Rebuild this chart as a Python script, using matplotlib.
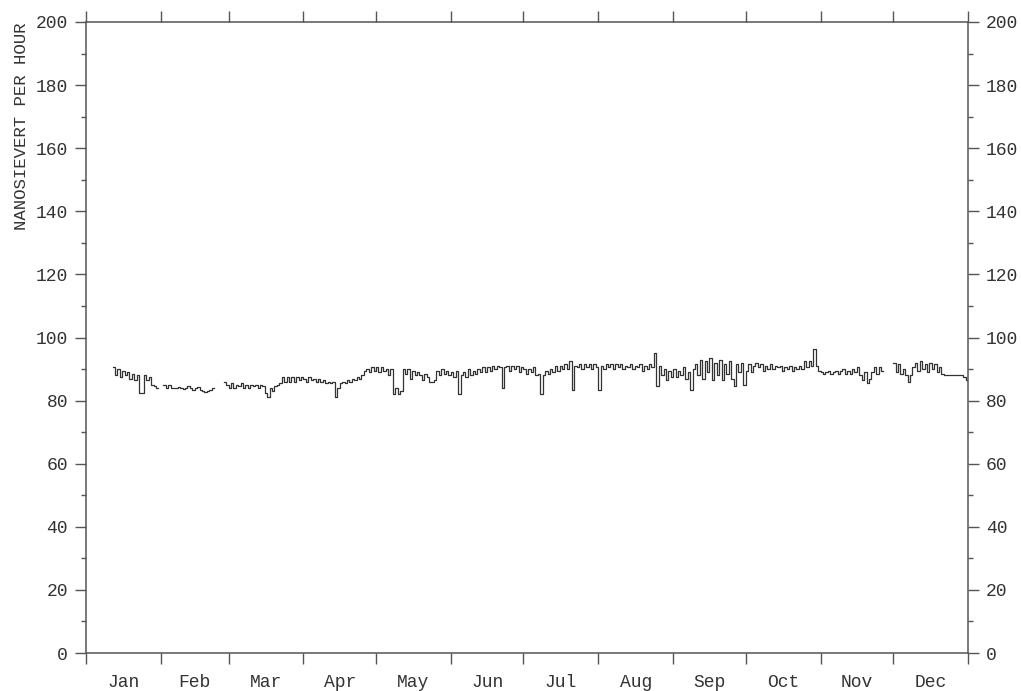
import numpy as np
import matplotlib
matplotlib.use('Agg')
import matplotlib.pyplot as plt

nan = np.nan

# daily dose rate readings, nanosievert per hour (NaN = no data)
jan = [nan] * 11 + [90.5, 88, 90, 87.5, 89.5, 88, 89, 87, 88.5, 86.5, 88,
                    82.5, 82.5, 88, 86.5, 87.5, 85, 84.5, 84, nan]
feb = [nan, 85, 84, 85, 84, 84, 84, 84.3, 84, 83.8, 84, 84.5, 84, 83.5, 84, 84.2,
       83.5, 83, 82.7, 83, 83.5, 84, nan, nan, nan, nan, 86, 85]
mar = [84, 85.5, 84, 85, 84.5, 85.5, 84, 85, 84, 85, 84.5, 85, 84, 85, 84.5,
       82.5, 81, 84, 83, 84.5, 85, 85.5, 87.5, 86, 87.5, 86, 87.5, 86, 87.5, 86.5, 87.5]
apr = [87, 86, 87.5, 86.5, 87, 86, 87, 86, 86.5, 85.5, 86, 85.5, 86, 81, 84,
       85.5, 86, 85.5, 86.5, 86, 87, 86.5, 87.5, 87, 88, 89.5, 90, 89, 90.5, 89.5]
may = [90.5, 89, 90.5, 89.5, 90, 88, 90, 82, 84, 82, 83, 90, 88.5, 90, 87, 89.5,
       88, 89, 88, 86.5, 88.5, 87.5, 86, 86, 86.5, 89.5, 88, 90, 88.5, 89.5, 88]
jun = [89, 87.5, 89.5, 82, 88, 89, 87.5, 90, 88, 89.5, 88.5, 90, 89, 90.5, 89,
       90.5, 89.5, 91, 90, 91, 90.5, 84, 90.5, 91, 89.5, 91, 90, 91, 89, 90.5]
jul = [90, 88.5, 90, 89, 90.5, 88, 88.5, 82, 88, 89.5, 88.5, 90, 89, 91, 89.5,
       91, 90, 91.5, 90, 92.5, 83.5, 91, 90.5, 91.5, 90, 91.5, 90.5, 91.5, 90, 91.5,
       90.5]
aug = [83.5, 91, 90, 91.5, 90.5, 91.5, 90, 91.5, 90.5, 91.5, 90, 91, 90.5, 91.5,
       90, 91, 90.5, 91.5, 89.5, 91, 90, 91.5, 90.5, 95, 84.5, 91, 88, 90, 86.5,
       89.5, 87.5]
sep = [90, 87.5, 89.5, 88, 90.5, 87, 89, 83.5, 90, 91.5, 88, 93, 87, 92.5, 89,
       93.5, 86.5, 92, 88, 93, 86.5, 91.5, 88.5, 92.5, 87, 84.5, 91.5, 89, 92, 85]
oct_ = [89.5, 91.5, 89, 91, 92, 90.5, 91.5, 89.5, 91, 90, 91.5, 90, 91, 90.5, 91,
        89.5, 90.5, 90, 91, 89.5, 90.5, 90, 91, 90, 92.5, 90.5, 92.5, 91, 96.5,
        91, 89.5]
nov = [89, 88.5, 89, 89.5, 88.5, 89, 89.5, 88.5, 89.5, 90, 88.5, 89.5, 88.5, 90,
       89, 90.5, 88, 86.5, 89, 85.5, 87, 89, 90.5, 88.5, 90.5, 89.5, nan, nan, nan, nan]
dec = [92, 89, 91.5, 88.5, 90, 88, 86, 88, 90.5, 92, 89.5, 92.5, 90, 91.5, 89,
       92, 90, 91.5, 89, 90.5, 88.5, 88, 88, 88, 88, 88.2, 88, 88, 88, 87.5, 86.5]

months = ['Jan', 'Feb', 'Mar', 'Apr', 'May', 'Jun',
          'Jul', 'Aug', 'Sep', 'Oct', 'Nov', 'Dec']
month_days = [31, 28, 31, 30, 31, 30, 31, 31, 30, 31, 30, 31]

values = np.array(jan + feb + mar + apr + may + jun + jul + aug + sep + oct_ + nov + dec)
days = np.arange(len(values) + 1)
values = np.append(values, values[-1])

plt.rcParams['font.family'] = ['Liberation Mono', 'DejaVu Sans Mono']
plt.rcParams['font.size'] = 13

fig = plt.figure(figsize=(10.21, 6.91), dpi=100)
ax = fig.add_axes([86 / 1021, 38 / 691, 882 / 1021, 631 / 691])

ax.step(days, values, where='post', color='#333333', linewidth=0.9)

ax.set_xlim(0, 365)
ax.set_ylim(0, 200)

# month boundaries get tick marks, month names sit in between
edges = np.concatenate([[0], np.cumsum(month_days)])
mids = (edges[:-1] + edges[1:]) / 2
ax.set_xticks(edges)
ax.set_xticklabels([])
ax.set_xticks(mids, minor=True)
ax.set_xticklabels(months, minor=True)
ax.tick_params(axis='x', which='major', direction='out', length=8, width=1,
               color='#555555', top=True, bottom=True)
ax.tick_params(axis='x', which='minor', length=0, pad=15, colors='#333333')

ax.set_yticks(np.arange(0, 201, 20))
ax.set_yticks(np.arange(10, 200, 20), minor=True)
ax.tick_params(axis='y', which='major', direction='out', length=8, width=1,
               color='#555555', labelcolor='#333333', left=True, right=True,
               labelleft=True, labelright=True, pad=5)
ax.tick_params(axis='y', which='minor', direction='out', length=3.5, width=1,
               color='#555555', left=True, right=True)

for s in ax.spines.values():
    s.set_color('#555555')
    s.set_linewidth(1.1)

ax.set_ylabel('NANOSIEVERT PER HOUR', loc='top', labelpad=5, color='#333333',
              fontsize=12.5)

fig.savefig('out.png', dpi=100)
